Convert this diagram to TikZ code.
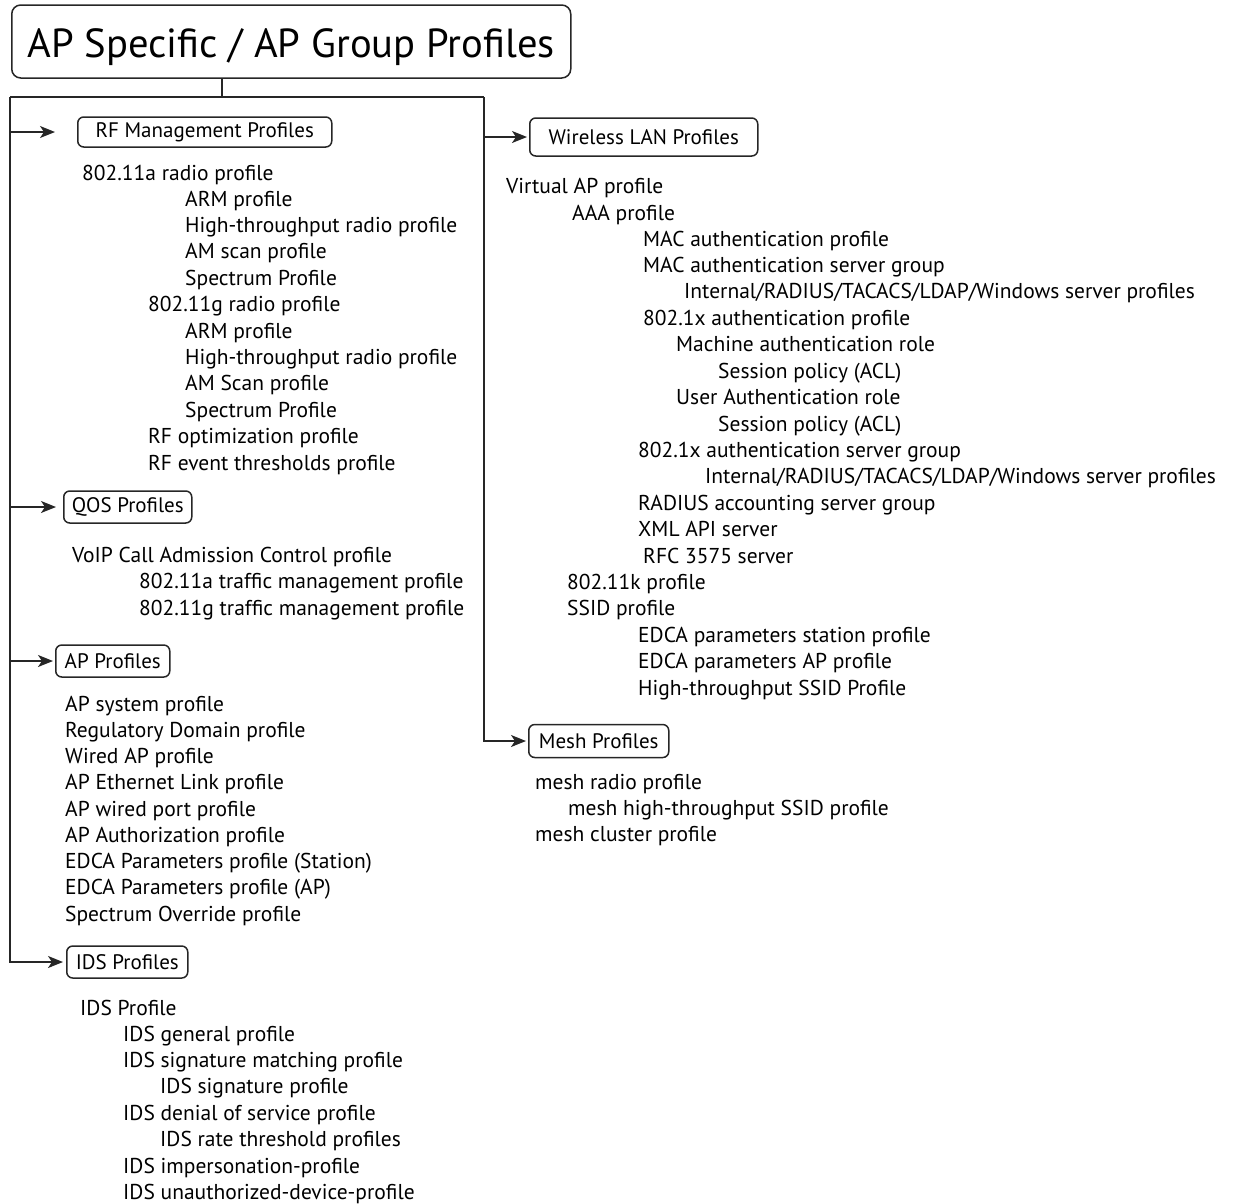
\documentclass[tikz,border=0pt]{standalone}
\usepackage{fontspec}
\setmainfont{PT Sans}
\usetikzlibrary{positioning,arrows.meta}
\tikzset{
>={Stealth[length=15pt,width=12pt,inset=4pt]},
  titlebox/.style={
    rectangle,
    rounded corners=9pt,
    draw=black!85, line width=1.5pt,
    font=\fontsize{40.6}{46}\selectfont,
    anchor=west,
    minimum width=559pt,
    minimum height=73pt,
    text height=31pt, text depth=0pt,
    text centered},
  profbox/.style={
    rectangle,
    rounded corners=6pt,
    draw=black!85, line width=1.5pt,
    font=\fontsize{21}{24}\selectfont,
    anchor=west,
    inner xsep=0pt,
    minimum height=32pt,
    text centered},
  entry/.style={anchor=base west, inner sep=0pt, font=\fontsize{21.5}{24}\selectfont},
  line/.style={draw=black!85, line width=1.5pt},
}
\begin{document}
\begin{tikzpicture}[x=1pt, y=-1pt]
    \useasboundingbox (0,0) rectangle (1233,1203);
		\node[titlebox] (title) at (11,41.5) {AP Specific / AP Group Profiles};
		% profile groups
		\node[profbox, minimum width=254pt, minimum height=30pt] (rf) at (77,132) {RF Management Profiles};
		\node[profbox, minimum width=128pt] (qos) at (63,507) {QOS Profiles};
		\node[profbox, minimum width=114pt] (ap) at (55,661) {AP Profiles};
		\node[profbox, minimum width=121pt] (ids) at (66,962) {IDS Profiles};
		\node[profbox, minimum width=228pt, minimum height=38pt] (wlan) at (529,137) {Wireless LAN Profiles};
		\node[profbox, minimum width=140pt, minimum height=33pt] (mesh) at (528,741) {Mesh Profiles};
		% RF management
		\node[entry] (rf1) at (82,180) {802.11a radio profile};
		\node[entry] (rf2) at (185,206) {ARM profile};
		\node[entry] (rf3) at (185,232) {High-throughput radio profile};
		\node[entry] (rf4) at (185,258) {AM scan profile};
		\node[entry] (rf5) at (185,285) {Spectrum Profile};
		\node[entry] (rf6) at (148,311) {802.11g radio profile};
		\node[entry] (rf7) at (185,338) {ARM profile};
		\node[entry] (rf8) at (185,364) {High-throughput radio profile};
		\node[entry] (rf9) at (185,390) {AM Scan profile};
		\node[entry] (rf10) at (185,417) {Spectrum Profile};
		\node[entry] (rf11) at (148,443) {RF optimization profile};
		\node[entry] (rf12) at (148,470) {RF event thresholds profile};
		% QOS
		\node[entry] (qos1) at (72,562) {VoIP Call Admission Control profile};
		\node[entry] (qos2) at (139,588) {802.11a traffic management profile};
		\node[entry] (qos3) at (139,615) {802.11g traffic management profile};
		% AP
		\node[entry] (ap1) at (65,711) {AP system profile};
		\node[entry] (ap2) at (65,737) {Regulatory Domain profile};
		\node[entry] (ap3) at (65,763) {Wired AP profile};
		\node[entry] (ap4) at (65,789) {AP Ethernet Link profile};
		\node[entry] (ap5) at (65,816) {AP wired port profile};
		\node[entry] (ap6) at (65,842) {AP Authorization profile};
		\node[entry] (ap7) at (65,868) {EDCA Parameters profile (Station)};
		\node[entry] (ap8) at (65,894) {EDCA Parameters profile (AP)};
		\node[entry] (ap9) at (65,921) {Spectrum Override profile};
		% IDS
		\node[entry] (ids1) at (80,1015) {IDS Profile};
		\node[entry] (ids2) at (123,1041) {IDS general profile};
		\node[entry] (ids3) at (123,1067) {IDS signature matching profile};
		\node[entry] (ids4) at (160,1093) {IDS signature profile};
		\node[entry] (ids5) at (123,1120) {IDS denial of service profile};
		\node[entry] (ids6) at (160,1146) {IDS rate threshold profiles};
		\node[entry] (ids7) at (123,1173) {IDS impersonation-profile};
		\node[entry] (ids8) at (123,1199) {IDS unauthorized-device-profile};
		% wireless LAN
		\node[entry] (wlan1) at (506,193) {Virtual AP profile};
		\node[entry] (wlan2) at (572,220) {AAA profile};
		\node[entry] (wlan3) at (643,246) {MAC authentication profile};
		\node[entry] (wlan4) at (643,272) {MAC authentication server group};
		\node[entry] (wlan5) at (684,298) {Internal/RADIUS/TACACS/LDAP/Windows server profiles};
		\node[entry] (wlan6) at (643,325) {802.1x authentication profile};
		\node[entry] (wlan7) at (676,351) {Machine authentication role};
		\node[entry] (wlan8) at (718,378) {Session policy (ACL)};
		\node[entry] (wlan9) at (676,404) {User Authentication role};
		\node[entry] (wlan10) at (718,431) {Session policy (ACL)};
		\node[entry] (wlan11) at (638,457) {802.1x authentication server group};
		\node[entry] (wlan12) at (705,483) {Internal/RADIUS/TACACS/LDAP/Windows server profiles};
		\node[entry] (wlan13) at (638,510) {RADIUS accounting server group};
		\node[entry] (wlan14) at (638,536) {XML API server};
		\node[entry] (wlan15) at (643,563) {RFC 3575 server};
		\node[entry] (wlan16) at (567,589) {802.11k profile};
		\node[entry] (wlan17) at (567,615) {SSID profile};
		\node[entry] (wlan18) at (638,642) {EDCA parameters station profile};
		\node[entry] (wlan19) at (638,668) {EDCA parameters AP profile};
		\node[entry] (wlan20) at (638,695) {High-throughput SSID Profile};
		% mesh
		\node[entry] (mesh1) at (535,789) {mesh radio profile};
		\node[entry] (mesh2) at (568,815) {mesh high-throughput SSID profile};
		\node[entry] (mesh3) at (535,841) {mesh cluster profile};
		% trunk lines
		\coordinate (tj) at (222,97);
		\coordinate (lt) at (10,97);
		\coordinate (rt) at (484,97);
		\draw[line] (tj |- title.south) -- (tj);
		\draw[line] (lt) -- (rt);
		\draw[line, ->, shorten >=3pt] (lt) |- (ids.west);
		\draw[line, ->, shorten >=2pt] (rt) |- (mesh.west);
		\draw[line, ->, shorten >=22pt] (lt |- rf.west) -- (rf.west);
		\draw[line, ->, shorten >=7pt] (lt |- qos.west) -- (qos.west);
		\draw[line, ->, shorten >=2pt] (lt |- ap.west) -- (ap.west);
		\draw[line, ->, shorten >=2pt] (rt |- wlan.west) -- (wlan.west);
	\end{tikzpicture}
\end{document}
